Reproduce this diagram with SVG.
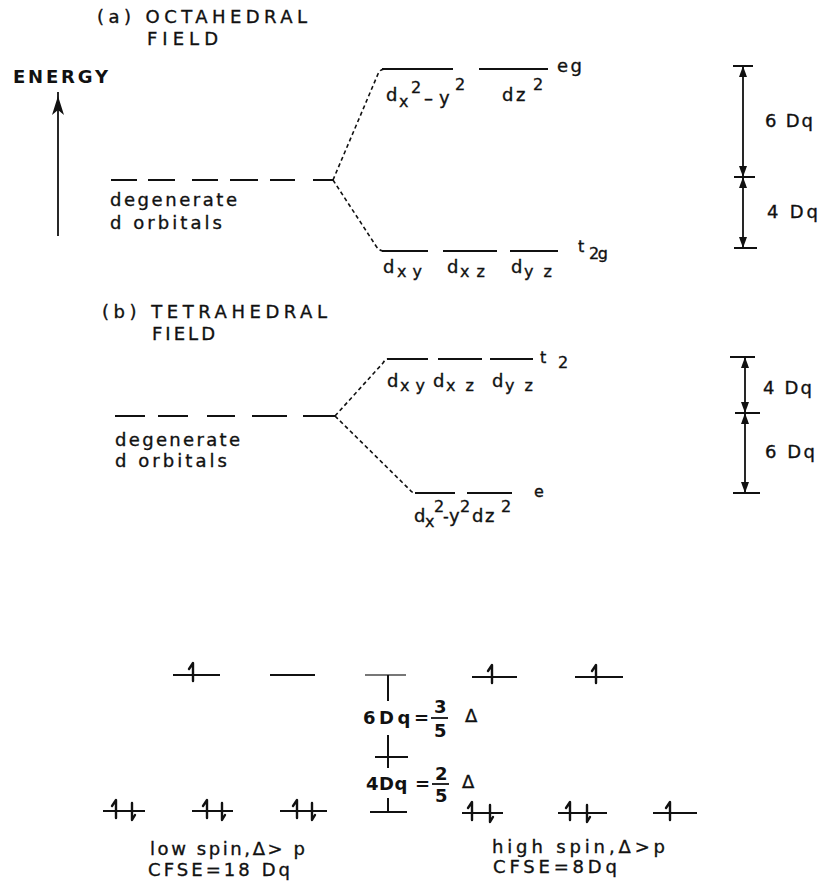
<svg xmlns="http://www.w3.org/2000/svg" width="822" height="886" viewBox="0 0 822 886">
<style>
text{font-family:"DejaVu Sans","Liberation Sans",Arial,sans-serif;fill:#111;stroke:#111;stroke-width:0.35}
.t{font-size:18px}
.b{font-size:18px;font-weight:bold;stroke-width:0}
.s{font-size:16px}
.lv{stroke:#111;stroke-width:2;fill:none}
.dash{stroke:#111;stroke-width:1.6;fill:none;stroke-dasharray:4 3}
.ax{stroke:#111;stroke-width:1.8;fill:none}
.e{stroke:#111;stroke-width:2.4;fill:none;stroke-linecap:round;stroke-linejoin:round}
</style>
<defs>
<path id="up" d="M-4,-4 L0,-10 L0,8"/>
<path id="dn" d="M0,-7 L0,10 L3,5"/>
<path id="ahU" d="M0,0 L-4,11 L4,11 Z" fill="#111"/>
<path id="ahD" d="M0,0 L-4,-11 L4,-11 Z" fill="#111"/>
</defs>
<rect width="822" height="886" fill="#fff"/>

<!-- ===== (a) Octahedral ===== -->
<g id="titleA">
<text class="t" x="97" y="23" textLength="210" lengthAdjust="spacing">(a) OCTAHEDRAL</text>
<text class="t" x="147" y="45" textLength="71" lengthAdjust="spacing">FIELD</text>
</g>
<g id="energy">
<text class="b" x="13" y="83" textLength="95" lengthAdjust="spacing">ENERGY</text>
<line class="ax" x1="58" y1="92" x2="58" y2="236"/>
<path d="M58,96 L52,115 L58,110 L64,115 Z" fill="#111"/>
</g>
<g id="degA">
<path class="lv" d="M111,180H137M148,180H175M192,180H218M230,180H258M270,180H295M313,180H333"/>
<text class="t" x="110" y="206" textLength="127" lengthAdjust="spacing">degenerate</text>
<text class="t" x="110" y="229" textLength="112" lengthAdjust="spacing">d orbitals</text>
</g>
<g id="eg">
<path class="lv" d="M382,69H453M479,69H548"/>
<text class="t"><tspan x="386" y="101">d</tspan><tspan class="s" x="399" y="107">x</tspan><tspan class="s" x="411" y="93">2</tspan><tspan x="424" y="104">–</tspan><tspan x="439" y="104">y</tspan><tspan class="s" x="455" y="90">2</tspan></text>
<text class="t"><tspan x="502" y="101">d</tspan><tspan x="516" y="101">z</tspan><tspan class="s" x="533" y="90">2</tspan></text>
<text class="t" x="557" y="72" textLength="25" lengthAdjust="spacing">eg</text>
</g>
<g id="t2g">
<path class="lv" d="M382,251H428M443,251H497M510,251H558"/>
<text class="t"><tspan x="383" y="273">d</tspan><tspan class="s" x="397" y="277" textLength="25" lengthAdjust="spacing">xy</tspan></text>
<text class="t"><tspan x="447" y="273">d</tspan><tspan class="s" x="460" y="277" textLength="25" lengthAdjust="spacing">xz</tspan></text>
<text class="t"><tspan x="511" y="273">d</tspan><tspan class="s" x="524" y="277" textLength="28" lengthAdjust="spacing">yz</tspan></text>
<text class="s"><tspan x="578" y="252">t</tspan><tspan x="589" y="259" textLength="19" lengthAdjust="spacing">2g</tspan></text>
</g>
<g id="splitA">
<path class="dash" d="M333,180 L378,74 Q380,69 385,69"/>
<path class="dash" d="M333,180 L376,246 Q379,251 384,251"/>
</g>
<g id="gapA">
<path class="ax" d="M733,66H753M734,177H755M734,248H757M743,66V248"/>
<use href="#ahU" x="743" y="66"/>
<use href="#ahD" x="743" y="177"/>
<use href="#ahU" x="743" y="177"/>
<use href="#ahD" x="743" y="248"/>
<text class="t" x="765" y="127" textLength="48" lengthAdjust="spacing">6 Dq</text>
<text class="t" x="767" y="218" textLength="51" lengthAdjust="spacing">4 Dq</text>
</g>

<!-- ===== (b) Tetrahedral ===== -->
<g id="titleB">
<text class="t" x="102" y="318" textLength="225" lengthAdjust="spacing">(b) TETRAHEDRAL</text>
<text class="t" x="152" y="340" textLength="63" lengthAdjust="spacing">FIELD</text>
</g>
<g id="degB">
<path class="lv" d="M115,416H145M158,416H188M207,416H235M252,416H287M303,416H335"/>
<text class="t" x="115" y="446" textLength="125" lengthAdjust="spacing">degenerate</text>
<text class="t" x="115" y="467" textLength="112" lengthAdjust="spacing">d orbitals</text>
</g>
<g id="t2">
<path class="lv" d="M387,359H428M438,359H482M490,359H533"/>
<text class="t"><tspan x="387" y="387">d</tspan><tspan class="s" x="400" y="391" textLength="25" lengthAdjust="spacing">xy</tspan></text>
<text class="t"><tspan x="433" y="387">d</tspan><tspan class="s" x="446" y="391" textLength="28" lengthAdjust="spacing">xz</tspan></text>
<text class="t"><tspan x="492" y="387">d</tspan><tspan class="s" x="505" y="391" textLength="28" lengthAdjust="spacing">yz</tspan></text>
<text class="s"><tspan x="540" y="363">t</tspan><tspan x="558" y="368">2</tspan></text>
</g>
<g id="e">
<path class="lv" d="M415,493H455M467,493H512"/>
<text class="t"><tspan x="414" y="522">d</tspan><tspan class="s" x="425" y="527">x</tspan><tspan class="s" x="434" y="512">2</tspan><tspan class="s" x="443" y="522">-</tspan><tspan x="449" y="522">y</tspan><tspan class="s" x="460" y="512">2</tspan><tspan x="472" y="522">d</tspan><tspan x="485" y="522">z</tspan><tspan class="s" x="501" y="512">2</tspan></text>
<text class="s" x="534" y="497">e</text>
</g>
<g id="splitB">
<path class="dash" d="M335,416 L383,363 Q385,359 389,359"/>
<path class="dash" d="M335,416 L410,490 Q412,493 416,493"/>
</g>
<g id="gapB">
<path class="ax" d="M730,357H755M735,413H760M733,493H760M745,357V493"/>
<use href="#ahU" x="745" y="357"/>
<use href="#ahD" x="745" y="413"/>
<use href="#ahU" x="745" y="413"/>
<use href="#ahD" x="745" y="493"/>
<text class="t" x="763" y="394" textLength="49" lengthAdjust="spacing">4 Dq</text>
<text class="t" x="765" y="458" textLength="50" lengthAdjust="spacing">6 Dq</text>
</g>

<!-- ===== Electron configurations ===== -->
<g id="lowSpin">
<path class="lv" d="M173,675H220M270,675H315"/>
<use class="e" href="#up" x="193" y="673"/>
<path class="lv" d="M103,811H145M192,811H233M280,811H327"/>
<use class="e" href="#up" x="116" y="810"/><use class="e" href="#dn" x="132" y="810"/>
<use class="e" href="#up" x="207" y="810"/><use class="e" href="#dn" x="222" y="810"/>
<use class="e" href="#up" x="297" y="810"/><use class="e" href="#dn" x="312" y="810"/>
<text class="t" x="150" y="855" textLength="155" lengthAdjust="spacing">low spin,Δ&gt; p</text>
<text class="t" x="148" y="876" textLength="142" lengthAdjust="spacing">CFSE=18 Dq</text>
</g>
<g id="splitScale">
<path d="M365,675H406" stroke="#777" stroke-width="2.2"/>
<path class="lv" d="M388,675V701M388,735V768M375,757H408M388,798V812M370,812H407"/>
<text class="b" font-size="20" x="363" y="724" textLength="66" lengthAdjust="spacing">6Dq=</text>
<text class="b" font-size="17" x="434" y="713">3</text>
<path d="M431,718H448" stroke="#111" stroke-width="1.8"/>
<text class="b" font-size="17" x="434" y="737">5</text>
<text class="t" x="465" y="722">Δ</text>
<text class="b" font-size="20" x="366" y="790" textLength="64" lengthAdjust="spacing">4Dq =</text>
<text class="b" font-size="17" x="435" y="780">2</text>
<path d="M432,784H449" stroke="#111" stroke-width="1.8"/>
<text class="b" font-size="17" x="435" y="802">5</text>
<text class="t" x="462" y="788">Δ</text>
</g>
<g id="highSpin">
<path class="lv" d="M472,677H517M575,677H623"/>
<use class="e" href="#up" x="492" y="675"/>
<use class="e" href="#up" x="596" y="675"/>
<path class="lv" d="M462,813H503M558,813H607M653,813H697"/>
<use class="e" href="#up" x="472" y="812"/><use class="e" href="#dn" x="490" y="812"/>
<use class="e" href="#up" x="570" y="812"/><use class="e" href="#dn" x="587" y="812"/>
<use class="e" href="#up" x="670" y="812"/>
<text class="t" x="492" y="853" textLength="173" lengthAdjust="spacing">high spin,Δ&gt;p</text>
<text class="t" x="493" y="873" textLength="124" lengthAdjust="spacing">CFSE=8Dq</text>
</g>
</svg>
